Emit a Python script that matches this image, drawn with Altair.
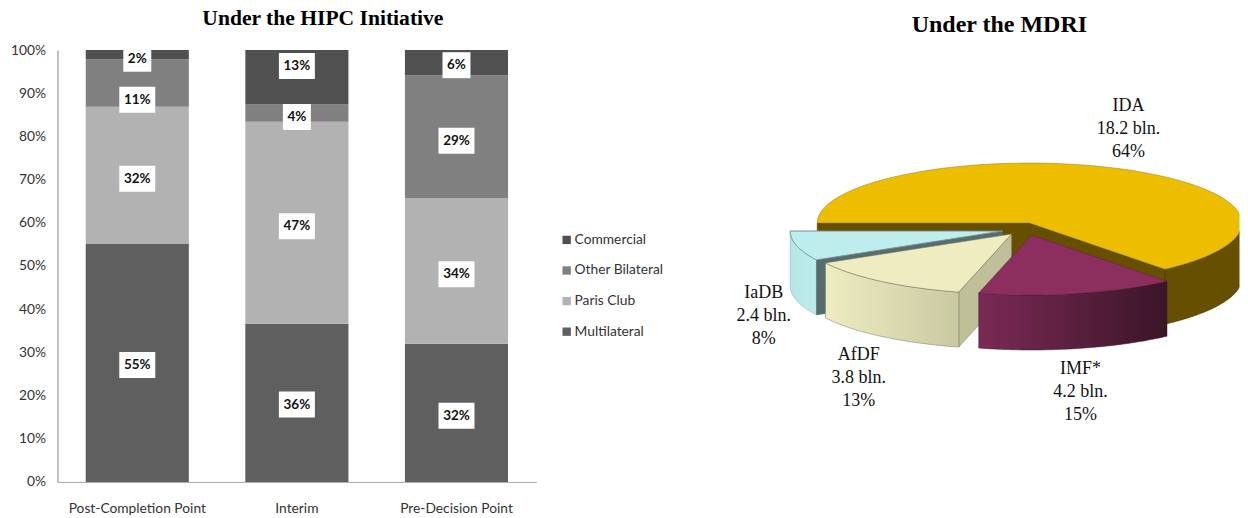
import math
import altair as alt
import pandas as pd

# ---------- data ----------
stages = ["Post-Completion Point", "Interim", "Pre-Decision Point"]
creditors = ["Multilateral", "Paris Club", "Other Bilateral", "Commercial"]
multilateral = [55.2, 36.6, 32.0]
paris_club = [31.7, 46.8, 33.7]
other_bilateral = [11.0, 4.0, 28.5]
commercial = [2.1, 12.6, 5.8]
labels_multilateral = ["55%", "36%", "32%"]
labels_paris = ["32%", "47%", "34%"]
labels_other = ["11%", "4%", "29%"]
labels_commercial = ["2%", "13%", "6%"]
# where the label boxes sit on the percentage axis
anchor_multilateral = [27.1, 17.9, 15.3]
anchor_paris = [70.2, 59.2, 48.1]
anchor_other = [88.5, 84.5, 79.0]
anchor_commercial = [98.0, 96.3, 96.5]

pie_names = ["IDA", "IMF*", "AfDF", "IaDB"]
pie_amounts = ["18.2 bln.", "4.2 bln.", "3.8 bln.", "2.4 bln."]
pie_shares = [64, 15, 13, 8]

# ---------- styling / geometry ----------
bar_colors = ["#5f5f5f", "#b2b2b2", "#808080", "#505050"]
SERIF = "Liberation Serif"
SANS = "Lato"
PW, PH = 479, 432
ORIGIN_X, ORIGIN_Y = 536.5, 50       # page position of the right panel's origin
RX, RY, DEPTH = 212.5, 60, 55
slice_centres = [(1030, 223), (1032, 235), (1012, 234), (1003, 231)]
label_spots = [(1129, 106), (1081, 369), (859, 355), (764, 293)]


def gradient(c0, c1):
    return {"gradient": "linear", "x1": 0, "x2": 1, "y1": 0, "y2": 0,
            "stops": [{"offset": 0, "color": c0}, {"offset": 1, "color": c1}]}


def ell(c, t):
    r = math.radians(t)
    return (c[0] + RX * math.cos(r), c[1] - RY * math.sin(r))


def feature(points):
    ring = [[x - ORIGIN_X, y - ORIGIN_Y] for x, y in points]
    ring.append(ring[0])
    return {"type": "Feature", "properties": {}, "geometry": {"type": "Polygon", "coordinates": [ring]}}


def arc(c, t0, t1, n=60):
    return [ell(c, t0 + (t1 - t0) * i / n) for i in range(n + 1)]


def top_face(c, t0, t1):
    return feature([c] + arc(c, t0, t1))


def outer_side(c, t0, t1):
    a = arc(c, t0, t1)
    return feature(a + [(x, y + DEPTH) for x, y in reversed(a)])


def wall(c, t):
    e = ell(c, t)
    return feature([c, e, (e[0], e[1] + DEPTH), (c[0], c[1] + DEPTH)])


angles = [180.0]
for s in pie_shares:
    angles.append(angles[-1] - s * 3.6)


def shape(f, fill, stroke="#3c3c2c", sw=0.5):
    return alt.Chart(alt.Data(values=[f])).mark_geoshape(
        fill=fill, stroke=stroke, strokeWidth=sw
    ).project(type="identity", scale=1, translate=[0, 0])


ida, imf, afdf, iadb = slice_centres
layers = [
    shape(wall(ida, angles[0]), "#665000", "#665000"),
    shape(wall(ida, angles[1]), "#665000", "#3d3000"),
    shape(outer_side(ida, 0, angles[1]), "#665000", "#3d3000"),
    shape(top_face(ida, angles[0], angles[1]), "#EDBE00", "#8a7a30"),
    shape(outer_side(iadb, angles[3], angles[4]), gradient("#B5E6E6", "#BDEDED"), "#88aaaa"),
    shape(wall(iadb, angles[3]), "#566D70", "#566D70"),
    shape(top_face(iadb, angles[3], angles[4]), "#BDEDED", "#808f8f", 1),
    shape(wall(afdf, angles[2]), "#BFBF9A", "#777760"),
    shape(outer_side(afdf, angles[2], angles[3]), gradient("#EEECC0", "#C9C9A2"), "#777760"),
    shape(top_face(afdf, angles[2], angles[3]), "#EEECC0", "#777760"),
    shape(outer_side(imf, angles[1], angles[2]), gradient("#7A2A55", "#3A1528"), "#3a1528"),
    shape(top_face(imf, angles[1], angles[2]), "#8C2E5E", "#5e2040"),
]

pie_text = pd.DataFrame({
    "txt": [f"{n}\n{a}\n{s}%" for n, a, s in zip(pie_names, pie_amounts, pie_shares)],
    "lon": [p[0] - ORIGIN_X for p in label_spots],
    "lat": [p[1] - ORIGIN_Y for p in label_spots],
})
text_layer = alt.Chart(pie_text).mark_text(
    font=SERIF, fontSize=18, color="#111111", lineBreak="\n", lineHeight=23,
    align="center", baseline="middle"
).encode(longitude="lon:Q", latitude="lat:Q", text="txt:N").project(
    type="identity", scale=1, translate=[0, 0])

right = alt.layer(*layers, text_layer).properties(
    width=1240 - ORIGIN_X, height=PH,
    title=alt.TitleParams("Under the MDRI", font=SERIF, fontSize=24, fontWeight="bold",
                          color="#000000", anchor="start", dx=912 - ORIGIN_X, offset=13),
)

# ---------- stacked bars ----------
rows, boxes = [], []
series = [multilateral, paris_club, other_bilateral, commercial]
labels = [labels_multilateral, labels_paris, labels_other, labels_commercial]
anchors = [anchor_multilateral, anchor_paris, anchor_other, anchor_commercial]
for k, name in enumerate(creditors):
    for i, st in enumerate(stages):
        rows.append({"stage": st, "creditor": name, "value": series[k][i], "ord": k})
        boxes.append({"stage": st, "label": labels[k][i], "at": anchors[k][i]})
bars_df = pd.DataFrame(rows)
boxes_df = pd.DataFrame(boxes)

x = alt.X("stage:N", sort=stages, title=None,
          scale=alt.Scale(paddingInner=0.354, paddingOuter=0.177),
          axis=alt.Axis(labelAngle=0, ticks=False, domainColor="#a6a6a6", labelFont=SANS, labelFontSize=13.8,
                        labelColor="#333333", labelPadding=20, labelLimit=300))
y = alt.Y("value:Q", stack="zero", title=None,
          scale=alt.Scale(domain=[0, 100], nice=False),
          axis=alt.Axis(values=list(range(0, 101, 10)), labelExpr="datum.value + '%'", ticks=False, grid=False,
                        domainColor="#868686", labelFont=SANS, labelFontSize=13.8, labelColor="#333333",
                        labelPadding=12))
bars = alt.Chart(bars_df).mark_bar().encode(
    x=x, y=y, order=alt.Order("ord:Q"),
    color=alt.Color("creditor:N", sort=creditors[::-1],
                    scale=alt.Scale(domain=creditors[::-1], range=bar_colors[::-1]), title=None,
                    legend=alt.Legend(orient="none", legendX=502.5, legendY=183, symbolType="square", symbolSize=70,
                                      symbolStrokeWidth=0, labelFont=SANS, labelFontSize=13.8, labelColor="#333333",
                                      rowPadding=15.6, symbolOffset=0, labelOffset=1)),
)
yb = alt.Y("at:Q", title=None, scale=alt.Scale(domain=[0, 100], nice=False))
xb = alt.X("stage:N", sort=stages)
wide = boxes_df[boxes_df["label"].str.len() == 3]
narrow = boxes_df[boxes_df["label"].str.len() == 2]
box_w = alt.Chart(wide).mark_rect(fill="white", width=36, height=26).encode(x=xb, y=yb)
box_n = alt.Chart(narrow).mark_rect(fill="white", width=28, height=26).encode(x=xb, y=yb)
box_t = alt.Chart(boxes_df).mark_text(font=SANS, fontSize=13.5, fontWeight="bold", color="#111111").encode(
    x=xb, y=yb, text="label:N")

left = alt.layer(bars, box_w, box_n, box_t).properties(
    width=PW, height=PH,
    title=alt.TitleParams("Under the HIPC Initiative", font=SERIF, fontSize=21.6, fontWeight="bold",
                          color="#000000", anchor="middle", dx=26, offset=13),
)

chart = alt.hconcat(left, right, spacing=0).properties(
    padding={"left": 1.5, "top": 0, "right": 0, "bottom": 0}
).configure_view(stroke=None)
chart.save("out.html", embed_options={"renderer": "svg", "actions": False})
